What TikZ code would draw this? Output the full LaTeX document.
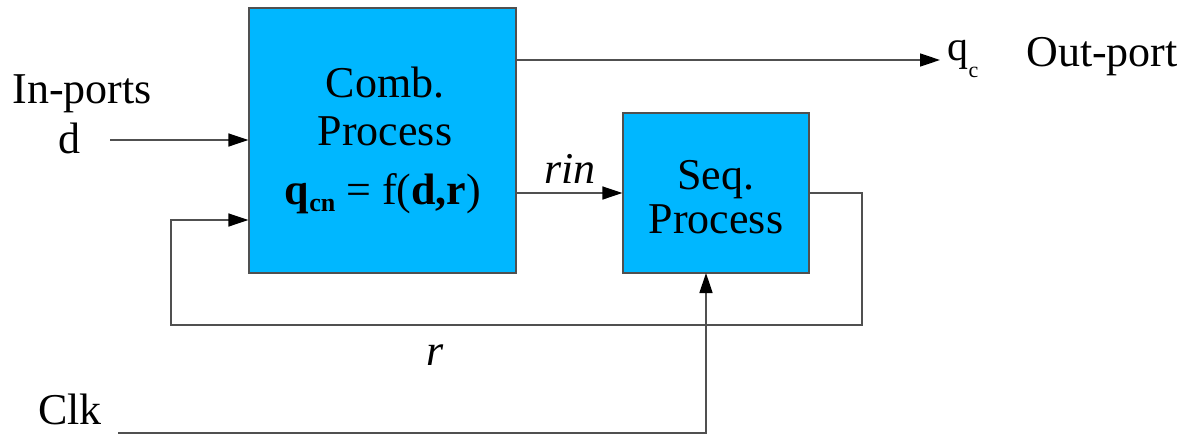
\documentclass[tikz,border=0pt]{standalone}
\usepackage{fontspec}
\IfFontExistsTF{LiberationSerif-Regular.ttf}{%
  \setmainfont{LiberationSerif}[Extension=.ttf,UprightFont=*-Regular,BoldFont=*-Bold,ItalicFont=*-Italic,BoldItalicFont=*-BoldItalic]}{%
  \setmainfont{Liberation Serif}}
\usetikzlibrary{arrows.meta}
\definecolor{boxblue}{RGB}{0,183,255}
\definecolor{linegray}{RGB}{80,80,80}
\tikzset{
  procbox/.style={draw=linegray, line width=0.6pt, fill=boxblue, inner sep=0pt},
  wire/.style={draw=linegray, line width=0.75pt},
  arr/.style={wire, -{Triangle[length=10pt,width=6.5pt,color=black,fill=black]}},
  lbl/.style={anchor=base, inner sep=0pt, font=\fontsize{22}{26}\selectfont},
}
\begin{document}
\begin{tikzpicture}[x=0.5pt,y=-0.5pt]
\useasboundingbox (0,0) rectangle (1194,434);
% boxes
\node[procbox, minimum width=133.5pt, minimum height=132.5pt] (comb) at (382.5,140.5) {};
\node[procbox, minimum width=93pt, minimum height=80pt] (seq) at (716,193) {};
% box texts
\node[lbl] (combt1) at (385,97) {Comb.};
\node[lbl] (combt2) at (385,145) {Process};
\node[lbl] (formula) at (383,204) {\textbf{q}\raisebox{-0.35ex}{\fontsize{13}{15}\selectfont\textbf{cn}} = f(\textbf{d,r})};
\node[lbl] (seqt1) at (716,189) {Seq.};
\node[lbl] (seqt2) at (716,233) {Process};
% outer labels
\node[lbl] (inports) at (82,103) {In-ports};
\node[lbl] (dlbl) at (69,153) {d};
\node[lbl] (clklbl) at (70,424) {Clk};
\node[lbl] (outport) at (1102,66) {Out-port};
\node[lbl] (qc) at (963,60) {\fontsize{21}{24}\selectfont q\raisebox{-0.9ex}{\fontsize{11}{13}\selectfont c}};
\node[lbl] (rinlbl) at (570,183) {\itshape rin};
\node[lbl] (rlbl) at (435,365) {\itshape r};
% coordinates
\coordinate (qend) at (940,60);
\coordinate (din) at (110,140);
\coordinate (fbR) at (862,325);
\coordinate (fbL) at (171,325);
\coordinate (fbin) at (171,220);
\coordinate (clk) at (118,433);
\coordinate (clkup) at (706,273);
% connectors
\draw[arr] (comb.east |- qend) -- (qend);
\draw[arr] (din) -- (din -| comb.west);
\draw[arr] (comb.east |- seq.west) -- (seq.west);
\draw[arr] (seq.east) -| (fbR) -- (fbL) -- (fbin) -- (fbin -| comb.west);
\draw[arr] (clk) -| (clkup);
\end{tikzpicture}
\end{document}
